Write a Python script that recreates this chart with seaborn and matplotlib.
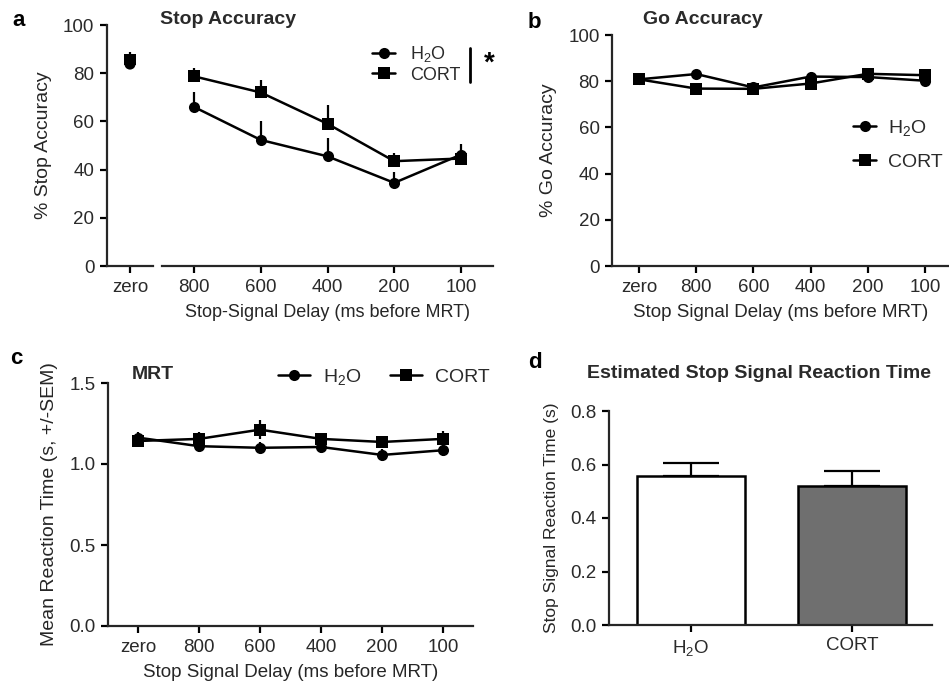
import numpy as np
import pandas as pd
import matplotlib
matplotlib.use("Agg")
import matplotlib.pyplot as plt
from matplotlib.lines import Line2D
import seaborn as sns

# ---------------- data ----------------
groups = ["H2O", "CORT"]
group_labels = [r"H$_2$O", "CORT"]

# panel a: stop accuracy
stop_zero_mean = [83.8, 85.7]
stop_zero_sem = [3.0, 3.3]
stop_delays = ["800", "600", "400", "200", "100"]
stop_h2o_mean = [66.0, 52.3, 45.5, 34.5, 46.2]
stop_h2o_sem = [6.0, 8.0, 7.5, 4.7, 4.5]
stop_cort_mean = [78.7, 72.0, 59.0, 43.5, 44.6]
stop_cort_sem = [3.5, 5.0, 8.0, 3.5, 3.0]

# panel b: go accuracy
go_delays = ["zero", "800", "600", "400", "200", "100"]
go_h2o_mean = [80.8, 83.1, 77.3, 82.0, 81.8, 80.2]
go_h2o_sem = [1.5, 1.8, 2.0, 1.8, 2.0, 2.0]
go_cort_mean = [80.8, 76.8, 76.7, 79.0, 83.2, 82.6]
go_cort_sem = [1.5, 2.0, 1.8, 1.8, 1.5, 1.8]

# panel c: MRT
mrt_delays = ["zero", "800", "600", "400", "200", "100"]
mrt_h2o_mean = [1.163, 1.110, 1.100, 1.105, 1.056, 1.085]
mrt_h2o_sem = [0.035, 0.035, 0.035, 0.035, 0.035, 0.035]
mrt_cort_mean = [1.142, 1.155, 1.212, 1.155, 1.136, 1.155]
mrt_cort_sem = [0.035, 0.040, 0.060, 0.035, 0.035, 0.050]

# panel d: SSRT
ssrt_mean = [0.556, 0.520]
ssrt_sem = [0.051, 0.055]
ssrt_colors = ["#ffffff", "#6f6f6f"]

# ---------------- style ----------------
sns.set_theme(style="ticks")
plt.rcParams["font.family"] = ["Liberation Sans", "DejaVu Sans"]
plt.rcParams["mathtext.default"] = "regular"
plt.rcParams["axes.linewidth"] = 1.6
plt.rcParams["xtick.major.width"] = 1.6
plt.rcParams["ytick.major.width"] = 1.6
plt.rcParams["xtick.major.size"] = 5
plt.rcParams["ytick.major.size"] = 5
TXT = "#2a2a2a"
plt.rcParams["text.color"] = TXT
plt.rcParams["xtick.color"] = "black"
plt.rcParams["ytick.color"] = "black"
plt.rcParams["xtick.labelcolor"] = TXT
plt.rcParams["ytick.labelcolor"] = TXT

W, H = 949, 690
fig = plt.figure(figsize=(W / 100, H / 100), dpi=100)


def frect(x0, y0, x1, y1):
    """pixel box (left, top, right, bottom) -> figure fraction rect"""
    return [x0 / W, 1 - y1 / H, (x1 - x0) / W, (y1 - y0) / H]


TICK_FS = 13.5
XLAB_FS = 13.5
YLAB_FS = 14
TITLE_FS = 14
LEG_FS = 14
MS = 8
LW = 1.8


def series_df(cats, h_mean, c_mean):
    rows = []
    for g, vals in zip(groups, [h_mean, c_mean]):
        for i, (cat, v) in enumerate(zip(cats, vals)):
            rows.append({"pos": i, "cat": cat, "group": g, "value": v})
    return pd.DataFrame(rows)


def draw_lines(ax, df, sems, upper_only=False):
    sns.lineplot(data=df, x="pos", y="value", style="group", hue="group",
                 palette={"H2O": "black", "CORT": "black"},
                 markers={"H2O": "o", "CORT": "s"}, dashes=False,
                 markersize=MS, linewidth=LW, markeredgewidth=0,
                 legend=False, ax=ax, zorder=3)
    for g, s in zip(groups, sems):
        sub = df[df.group == g]
        s = np.asarray(s)
        yerr = [np.zeros_like(s), s] if upper_only else s
        ax.errorbar(sub["pos"], sub["value"], yerr=yerr, fmt="none",
                    ecolor="black", elinewidth=1.6, capsize=0, zorder=2)


def style_ax(ax):
    sns.despine(ax=ax)
    ax.tick_params(labelsize=TICK_FS, pad=4)


# ---------------- panel a ----------------
ax_a0 = fig.add_axes(frect(107, 25, 153, 266))
ax_a1 = fig.add_axes(frect(162, 25, 493, 266), sharey=ax_a0)

df_zero = pd.DataFrame({"pos": [0, 0], "group": groups, "value": stop_zero_mean})
sns.scatterplot(data=df_zero, x="pos", y="value", style="group",
                markers={"H2O": "o", "CORT": "s"}, color="black",
                s=MS ** 2, linewidth=0, legend=False, ax=ax_a0, zorder=3)
ax_a0.errorbar(df_zero["pos"], df_zero["value"],
               yerr=[np.zeros(2), np.asarray(stop_zero_sem)], fmt="none",
               ecolor="black", elinewidth=1.6, capsize=0)
ax_a0.set_xlim(-0.5, 0.5)
ax_a0.set_xticks([0])
ax_a0.set_xticklabels(["zero"])
ax_a0.set_ylim(0, 100)
ax_a0.set_yticks(range(0, 101, 20))
ax_a0.set_xlabel("")
ax_a0.set_ylabel("% Stop Accuracy", fontsize=YLAB_FS, labelpad=8)
style_ax(ax_a0)

df_a = series_df(stop_delays, stop_h2o_mean, stop_cort_mean)
draw_lines(ax_a1, df_a, [stop_h2o_sem, stop_cort_sem], upper_only=True)
ax_a1.set_xlim(-0.48, 4.48)
ax_a1.set_xticks(range(len(stop_delays)))
ax_a1.set_xticklabels(stop_delays)
ax_a1.set_ylim(0, 100)
ax_a1.set_ylabel("")
ax_a1.set_xlabel("Stop-Signal Delay (ms before MRT)", fontsize=13, labelpad=6)
style_ax(ax_a1)
ax_a1.spines["left"].set_visible(False)
ax_a1.tick_params(axis="y", left=False, labelleft=False)

fig.text(160 / W, 1 - 20 / H, "Stop Accuracy", fontsize=TITLE_FS,
         fontweight="bold", va="center", ha="left")

handles = [Line2D([], [], color="black", marker="o", ms=MS, lw=LW, mew=0),
           Line2D([], [], color="black", marker="s", ms=MS, lw=LW, mew=0)]
fig.legend(handles, group_labels, loc="upper left",
           bbox_to_anchor=(372 / W, 1 - 44 / H), frameon=False,
           fontsize=13, handlelength=1.3, handletextpad=0.8,
           labelspacing=0.15, borderpad=0, borderaxespad=0)
fig.add_artist(Line2D([470 / W, 470 / W], [1 - 48 / H, 1 - 82 / H],
                      color="black", lw=2))
fig.text(489 / W, 1 - 64 / H, "*", fontsize=20, fontweight="bold",
         ha="center", va="center", color="black")

# ---------------- panel b ----------------
ax_b = fig.add_axes(frect(612, 35, 949, 266))
df_b = series_df(go_delays, go_h2o_mean, go_cort_mean)
draw_lines(ax_b, df_b, [go_h2o_sem, go_cort_sem])
ax_b.set_xlim(-0.472, 5.42)
ax_b.set_xticks(range(len(go_delays)))
ax_b.set_xticklabels(go_delays)
ax_b.set_ylim(0, 100)
ax_b.set_yticks(range(0, 101, 20))
ax_b.set_ylabel("% Go Accuracy", fontsize=YLAB_FS, labelpad=8)
ax_b.set_xlabel("Stop Signal Delay (ms before MRT)", fontsize=XLAB_FS, labelpad=6)
style_ax(ax_b)
fig.text(643 / W, 1 - 20 / H, "Go Accuracy", fontsize=TITLE_FS,
         fontweight="bold", va="center", ha="left")
fig.legend(handles, group_labels, loc="upper left",
           bbox_to_anchor=(853 / W, 1 - 118 / H), frameon=False,
           fontsize=LEG_FS, handlelength=1.2, handletextpad=0.6,
           labelspacing=0.8, borderpad=0, borderaxespad=0)

# ---------------- panel c ----------------
ax_c = fig.add_axes(frect(108, 383, 473, 626))
df_c = series_df(mrt_delays, mrt_h2o_mean, mrt_cort_mean)
draw_lines(ax_c, df_c, [mrt_h2o_sem, mrt_cort_sem])
ax_c.set_xlim(-0.49, 5.49)
ax_c.set_xticks(range(len(mrt_delays)))
ax_c.set_xticklabels(mrt_delays)
ax_c.set_ylim(0, 1.5)
ax_c.set_yticks([0.0, 0.5, 1.0, 1.5])
ax_c.set_yticklabels(["0.0", "0.5", "1.0", "1.5"])
ax_c.set_ylabel("Mean Reaction Time (s, +/-SEM)", fontsize=YLAB_FS, labelpad=8)
ax_c.set_xlabel("Stop Signal Delay (ms before MRT)", fontsize=XLAB_FS, labelpad=6)
style_ax(ax_c)
fig.text(132 / W, 1 - 374 / H, "MRT", fontsize=TITLE_FS,
         fontweight="bold", va="center", ha="left")
fig.legend(handles, group_labels, loc="upper left", ncol=2,
           bbox_to_anchor=(278 / W, 1 - 367 / H), frameon=False,
           fontsize=LEG_FS, handlelength=1.65, handletextpad=0.65,
           columnspacing=1.5, borderpad=0, borderaxespad=0)

# ---------------- panel d ----------------
ax_d = fig.add_axes(frect(609, 411, 932, 625))
df_d = pd.DataFrame({"group": groups, "value": ssrt_mean})
sns.barplot(data=df_d, x="group", y="value", hue="group",
            palette=dict(zip(groups, ssrt_colors)), width=0.67,
            edgecolor="black", linewidth=1.8, legend=False, ax=ax_d,
            errorbar=None, zorder=2)
ax_d.errorbar(range(len(groups)), ssrt_mean,
              yerr=[np.zeros(2), np.asarray(ssrt_sem)], fmt="none",
              ecolor="black", elinewidth=1.6, capsize=20, capthick=1.6,
              zorder=1)
ax_d.set_xlim(-0.509, 1.497)
ax_d.set_xticks(range(len(groups)))
ax_d.set_xticklabels(group_labels)
ax_d.set_ylim(0, 0.8)
ax_d.set_yticks([0.0, 0.2, 0.4, 0.6, 0.8])
ax_d.set_yticklabels(["0.0", "0.2", "0.4", "0.6", "0.8"])
ax_d.set_xlabel("")
ax_d.set_ylabel("Stop Signal Reaction Time (s)", fontsize=12.5, labelpad=8)
style_ax(ax_d)
fig.text(587 / W, 1 - 373 / H, "Estimated Stop Signal Reaction Time",
         fontsize=TITLE_FS, fontweight="bold", va="center", ha="left")

# ---------------- panel letters ----------------
for lx, ly, lt in [(12, 20, "a"), (528, 22, "b"), (10, 358, "c"), (528, 362, "d")]:
    fig.text(lx / W, 1 - ly / H, lt, fontsize=16, fontweight="bold",
             va="center", ha="left", color="black")

fig.savefig("out.png", dpi=100)
